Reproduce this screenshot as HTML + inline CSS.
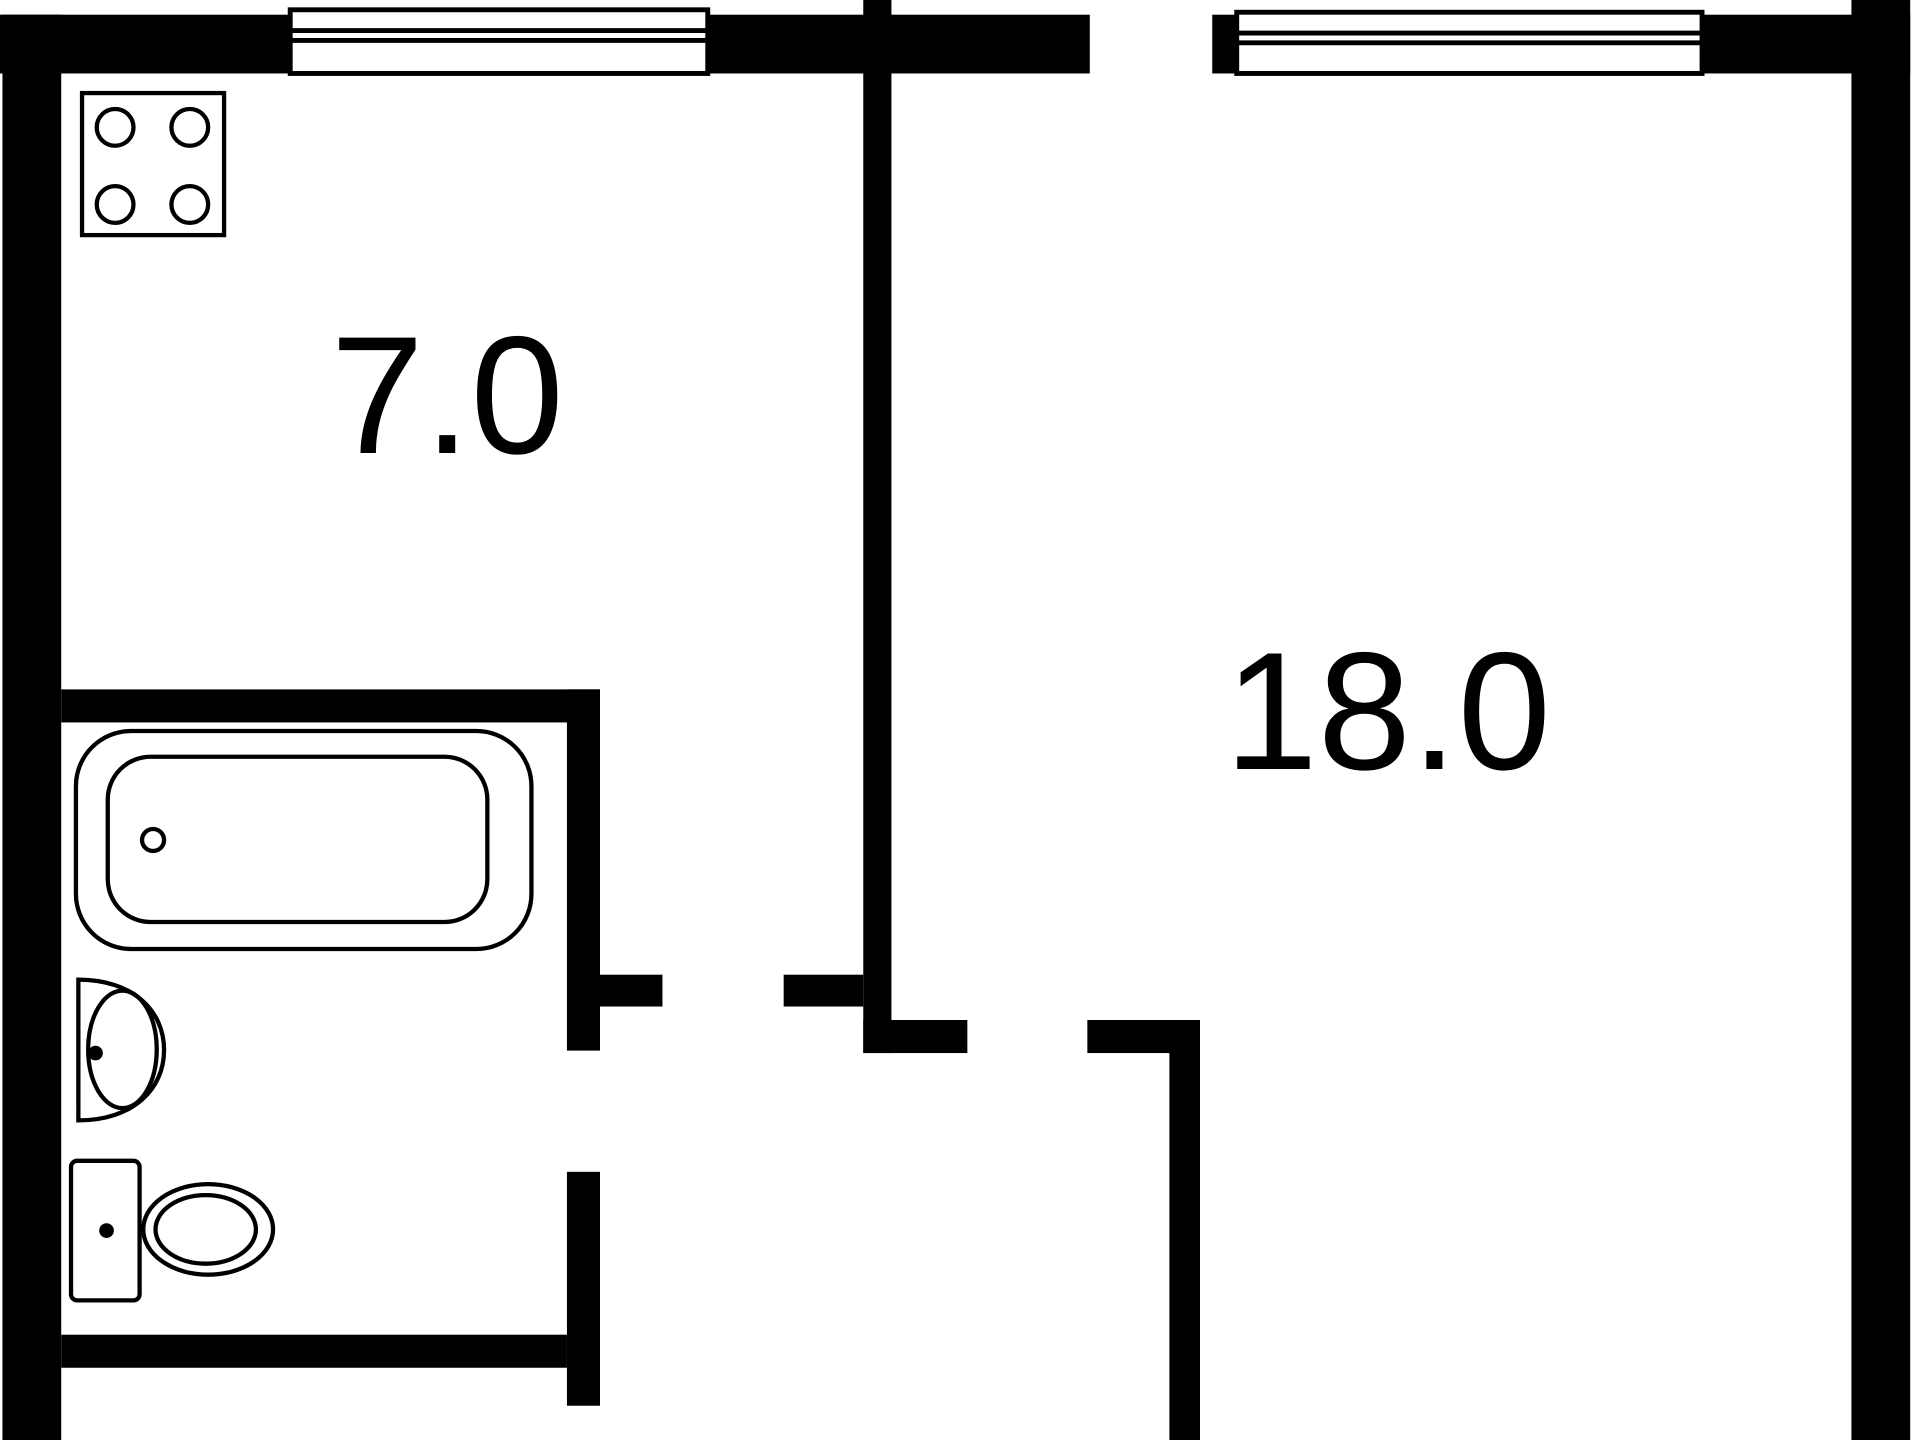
<!DOCTYPE html>
<html><head><style>html,body{margin:0;padding:0;background:#fff;overflow:hidden}svg{display:block}</style></head>
<body>
<svg width="1920" height="1440" viewBox="0 0 1568 1176" preserveAspectRatio="none" xmlns="http://www.w3.org/2000/svg">
<rect width="1568" height="1176" fill="#fff"/>
<g fill="#000">
<rect x="0" y="12" width="890" height="48"/>
<rect x="990" y="12" width="570" height="48"/>
<rect x="2" y="12" width="48" height="1164"/>
<rect x="1512" y="0" width="48" height="1176"/>
<rect x="705" y="0" width="23" height="860"/>
<rect x="705" y="833" width="85" height="27"/>
<rect x="888" y="833" width="92" height="27"/>
<rect x="955" y="833" width="25" height="343"/>
<rect x="640" y="796" width="65" height="26"/>
<rect x="50" y="563" width="440" height="27"/>
<rect x="463" y="563" width="27" height="295"/>
<rect x="490" y="796" width="51" height="26"/>
<rect x="50" y="1090" width="413" height="27"/>
<rect x="463" y="957" width="27" height="191"/>
</g>
<g fill="#fff" stroke="#000" stroke-width="4">
<rect x="237" y="8" width="341" height="52"/>
<line x1="237" y1="33" x2="578" y2="33"/>
<line x1="237" y1="25" x2="578" y2="25"/>
<rect x="1010" y="10" width="380" height="50"/>
<line x1="1010" y1="35" x2="1390" y2="35"/>
<line x1="1010" y1="27" x2="1390" y2="27"/>
</g>
<g fill="none" stroke="#000" stroke-width="3.5">
<rect x="67" y="76" width="116" height="116"/>
<circle cx="94" cy="104" r="15"/><circle cx="155" cy="104" r="15"/>
<circle cx="94" cy="167" r="15"/><circle cx="155" cy="167" r="15"/>
<rect x="62" y="597" width="372" height="178" rx="45"/>
<rect x="88" y="618" width="310" height="135" rx="35"/>
<circle cx="125" cy="686" r="9"/>
<path d="M64 800 L64 915 C108 915 134 890 134 857.5 C134 825 108 800 64 800 Z"/>
<ellipse cx="100" cy="857" rx="28" ry="48"/>
<rect x="58" y="948" width="56" height="114" rx="5"/>
<ellipse cx="170" cy="1004" rx="53" ry="37"/>
<ellipse cx="168" cy="1004" rx="41" ry="28"/>
</g>
<circle cx="87" cy="1005" r="6" fill="#000"/>
<circle cx="78" cy="860" r="6" fill="#000"/>
<g font-family="Liberation Sans, sans-serif" font-size="137" fill="#000">
<text x="270" y="370">7.0</text>
<text x="1000" y="628">18.0</text>
</g>
</svg>
</body></html>
